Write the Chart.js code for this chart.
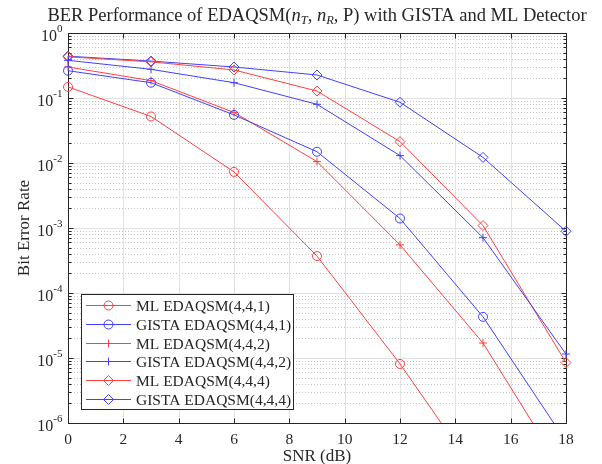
<!DOCTYPE html>
<html>
<head>
<meta charset="utf-8">
<script src="https://cdn.jsdelivr.net/npm/chart.js@4/dist/chart.umd.min.js"></script>
<style>
  html, body { margin: 0; padding: 0; background: #fff; }
  #wrap { width: 602px; height: 464px; }
</style>
</head>
<body>
<div id="wrap"><canvas id="ber-chart" width="602" height="464"></canvas></div>
<script>
// SNR points (dB)
const snr = [0, 3, 6, 9, 12, 15, 18];

// BER
const mlQsm441 = [0.148, 0.052, 0.0073, 0.00037, 0.0000081, 0.00000012, null];
const gistaQsm441 = [0.263, 0.172, 0.055, 0.0149, 0.0014, 0.000043, 0.00000052];
const mlQsm442 = [0.3, 0.185, 0.06, 0.0105, 0.00055, 0.000017, 0.00000015];
const gistaQsm442 = [0.38, 0.276, 0.172, 0.08, 0.013, 0.00071, 0.0000115];
const mlQsm444 = [0.43, 0.36, 0.27, 0.128, 0.0213, 0.00109, 0.0000085];
const gistaQsm444 = [0.44, 0.37, 0.3, 0.226, 0.086, 0.0122, 0.00089];

const seriesNames = [
  "ML EDAQSM(4,4,1)",
  "GISTA EDAQSM(4,4,1)",
  "ML EDAQSM(4,4,2)",
  "GISTA EDAQSM(4,4,2)",
  "ML EDAQSM(4,4,4)",
  "GISTA EDAQSM(4,4,4)",
];

const xTicks = [0, 2, 4, 6, 8, 10, 12, 14, 16, 18];
const yDecades = [-6, -5, -4, -3, -2, -1, 0];

const red = "rgb(255,64,64)";
const blue = "rgb(64,64,255)";
const ink = "#262626";
const serif = '"Liberation Serif", "Times New Roman", serif';

function toPoints(values) {
  return snr.map((s, i) => ({ x: s, y: values[i] }));
}

function makeSet(label, values, color, style, radius) {
  return {
    label: label,
    data: toPoints(values),
    borderColor: color,
    backgroundColor: "rgba(0,0,0,0)",
    borderWidth: 1,
    pointStyle: style,
    pointRadius: radius,
    pointHoverRadius: radius,
    pointBorderWidth: 1,
    pointBorderColor: color,
    pointBackgroundColor: "rgba(0,0,0,0)",
    tension: 0,
    // let edge markers show, but cut lines at the bottom axis
    clip: { left: 8, top: 8, right: 8, bottom: 0 },
  };
}

function line(ctx, x1, y1, x2, y2) {
  ctx.beginPath();
  ctx.moveTo(x1, y1);
  ctx.lineTo(x2, y2);
  ctx.stroke();
}

function marker(ctx, style, x, y, r) {
  ctx.beginPath();
  if (style === "circle") {
    ctx.arc(x, y, r, 0, Math.PI * 2);
  } else if (style === "cross") {
    ctx.moveTo(x - r, y);
    ctx.lineTo(x + r, y);
    ctx.moveTo(x, y - r);
    ctx.lineTo(x, y + r);
  } else {
    ctx.moveTo(x - r, y);
    ctx.lineTo(x, y - r);
    ctx.lineTo(x + r, y);
    ctx.lineTo(x, y + r);
    ctx.closePath();
  }
  ctx.stroke();
}

// grid, box, ticks, labels, title and legend in MATLAB style
const matlabFrame = {
  id: "matlabFrame",
  beforeDatasetsDraw(chart) {
    const { ctx, chartArea: a, scales } = chart;
    const x = scales.x;
    const y = scales.y;
    ctx.save();
    ctx.lineWidth = 1;

    // minor y grid (dotted)
    ctx.strokeStyle = "#c4c4c4";
    ctx.setLineDash([1, 2]);
    yDecades.slice(0, -1).forEach((e) => {
      for (let m = 2; m <= 9; m++) {
        const py = Math.round(y.getPixelForValue(m * Math.pow(10, e))) + 0.5;
        line(ctx, a.left, py, a.right, py);
      }
    });
    ctx.setLineDash([]);

    // major grid
    ctx.strokeStyle = "#e2e2e2";
    yDecades.forEach((e) => {
      const py = Math.round(y.getPixelForValue(Math.pow(10, e))) + 0.5;
      line(ctx, a.left, py, a.right, py);
    });
    xTicks.forEach((t) => {
      const px = Math.round(x.getPixelForValue(t)) + 0.5;
      line(ctx, px, a.top, px, a.bottom);
    });

    // box and inward ticks (under the data)
    const L = Math.round(a.left) + 0.5;
    const R = Math.round(a.right) + 0.5;
    const T = Math.round(a.top) + 0.5;
    const B = Math.round(a.bottom) + 0.5;
    ctx.strokeStyle = ink;
    xTicks.forEach((t) => {
      const px = Math.round(x.getPixelForValue(t)) + 0.5;
      line(ctx, px, B, px, B - 5);
      line(ctx, px, T, px, T + 5);
    });
    yDecades.forEach((e) => {
      const py = Math.round(y.getPixelForValue(Math.pow(10, e))) + 0.5;
      line(ctx, L, py, L + 5, py);
      line(ctx, R, py, R - 5, py);
      if (e < 0) {
        for (let m = 2; m <= 9; m++) {
          const pm = Math.round(y.getPixelForValue(m * Math.pow(10, e))) + 0.5;
          line(ctx, L, pm, L + 3, pm);
          line(ctx, R, pm, R - 3, pm);
        }
      }
    });
    ctx.strokeRect(L, T, R - L, B - T);
    ctx.restore();
  },
  afterDatasetsDraw(chart) {
    const { ctx, chartArea: a, scales } = chart;
    const y = scales.y;
    const L = Math.round(a.left) + 0.5;
    ctx.save();
    ctx.lineWidth = 1;

    // y tick labels 10^k
    ctx.fillStyle = ink;
    ctx.textBaseline = "alphabetic";
    yDecades.forEach((e) => {
      const py = y.getPixelForValue(Math.pow(10, e));
      const exp = String(e);
      ctx.font = "11px " + serif;
      const ew = ctx.measureText(exp).width;
      ctx.textAlign = "left";
      ctx.fillText(exp, L - 6 - ew, py - 1);
      ctx.font = "16px " + serif;
      ctx.textAlign = "right";
      ctx.fillText("10", L - 6 - ew, py + 8);
    });

    // title with italic n and subscripts
    const parts = [
      ["BER Performance of EDAQSM(", "normal", 0],
      ["n", "italic", 0],
      ["T", "italic-sub", 0],
      [", ", "normal", 0],
      ["n", "italic", 0],
      ["R", "italic-sub", 0],
      [", P) with GISTA and ML Detector", "normal", 0],
    ];
    const fontFor = (kind) =>
      kind === "normal" ? "18.5px " + serif :
      kind === "italic" ? "italic 18.5px " + serif : "italic 12.5px " + serif;
    let total = 0;
    parts.forEach((p) => {
      ctx.font = fontFor(p[1]);
      p[2] = ctx.measureText(p[0]).width;
      total += p[2];
    });
    let tx = (a.left + a.right) / 2 - total / 2;
    ctx.textAlign = "left";
    parts.forEach((p) => {
      ctx.font = fontFor(p[1]);
      ctx.fillText(p[0], tx, p[1] === "italic-sub" ? 24 : 21);
      tx += p[2];
    });

    // legend box
    const bx = 81, by = 294, bw = 212, bh = 115;
    ctx.fillStyle = "#fff";
    ctx.fillRect(bx, by, bw, bh);
    ctx.strokeStyle = ink;
    ctx.strokeRect(bx + 0.5, by + 0.5, bw, bh);
    ctx.font = "15.5px " + serif;
    ctx.textBaseline = "middle";
    chart.data.datasets.forEach((ds, i) => {
      const ry = Math.round(by + 11 + i * 18.8) + 0.5;
      ctx.strokeStyle = ds.borderColor;
      line(ctx, 86, ry, 131, ry);
      marker(ctx, ds.pointStyle, 108.5, ry, ds.pointRadius);
      ctx.fillStyle = ink;
      ctx.fillText(ds.label, 136, ry + 1);
    });
    ctx.restore();
  },
};

new Chart(document.getElementById("ber-chart"), {
  type: "line",
  data: {
    datasets: [
      makeSet(seriesNames[0], mlQsm441, red, "circle", 4.5),
      makeSet(seriesNames[1], gistaQsm441, blue, "circle", 4.5),
      makeSet(seriesNames[2], mlQsm442, red, "cross", 4),
      makeSet(seriesNames[3], gistaQsm442, blue, "cross", 4),
      makeSet(seriesNames[4], mlQsm444, red, "rectRot", 5),
      makeSet(seriesNames[5], gistaQsm444, blue, "rectRot", 5),
    ],
  },
  options: {
    responsive: false,
    animation: false,
    spanGaps: false,
    layout: {
      padding: { top: 33, right: 36, left: 0, bottom: 0 },
    },
    plugins: {
      legend: { display: false },
      title: { display: false },
      tooltip: { enabled: false },
    },
    scales: {
      x: {
        type: "linear",
        min: 0,
        max: 18,
        afterBuildTicks: (scale) => {
          scale.ticks = xTicks.map((v) => ({ value: v }));
        },
        afterFit: (scale) => {
          scale.height = 41;
        },
        grid: { display: false },
        border: { display: false },
        ticks: {
          color: ink,
          padding: 0,
          maxRotation: 0,
          font: { family: serif, size: 15.5 },
        },
        title: {
          display: true,
          text: "SNR (dB)",
          color: ink,
          padding: { top: 0, bottom: -3 },
          font: { family: serif, size: 17 },
        },
      },
      y: {
        type: "logarithmic",
        min: 1e-6,
        max: 1,
        afterFit: (scale) => {
          scale.width = 68;
        },
        grid: { display: false },
        border: { display: false },
        ticks: { display: false },
        title: {
          display: true,
          text: "Bit Error Rate",
          color: ink,
          padding: { top: 14, bottom: 0 },
          font: { family: serif, size: 17 },
        },
      },
    },
  },
  plugins: [matlabFrame],
});
</script>
</body>
</html>
